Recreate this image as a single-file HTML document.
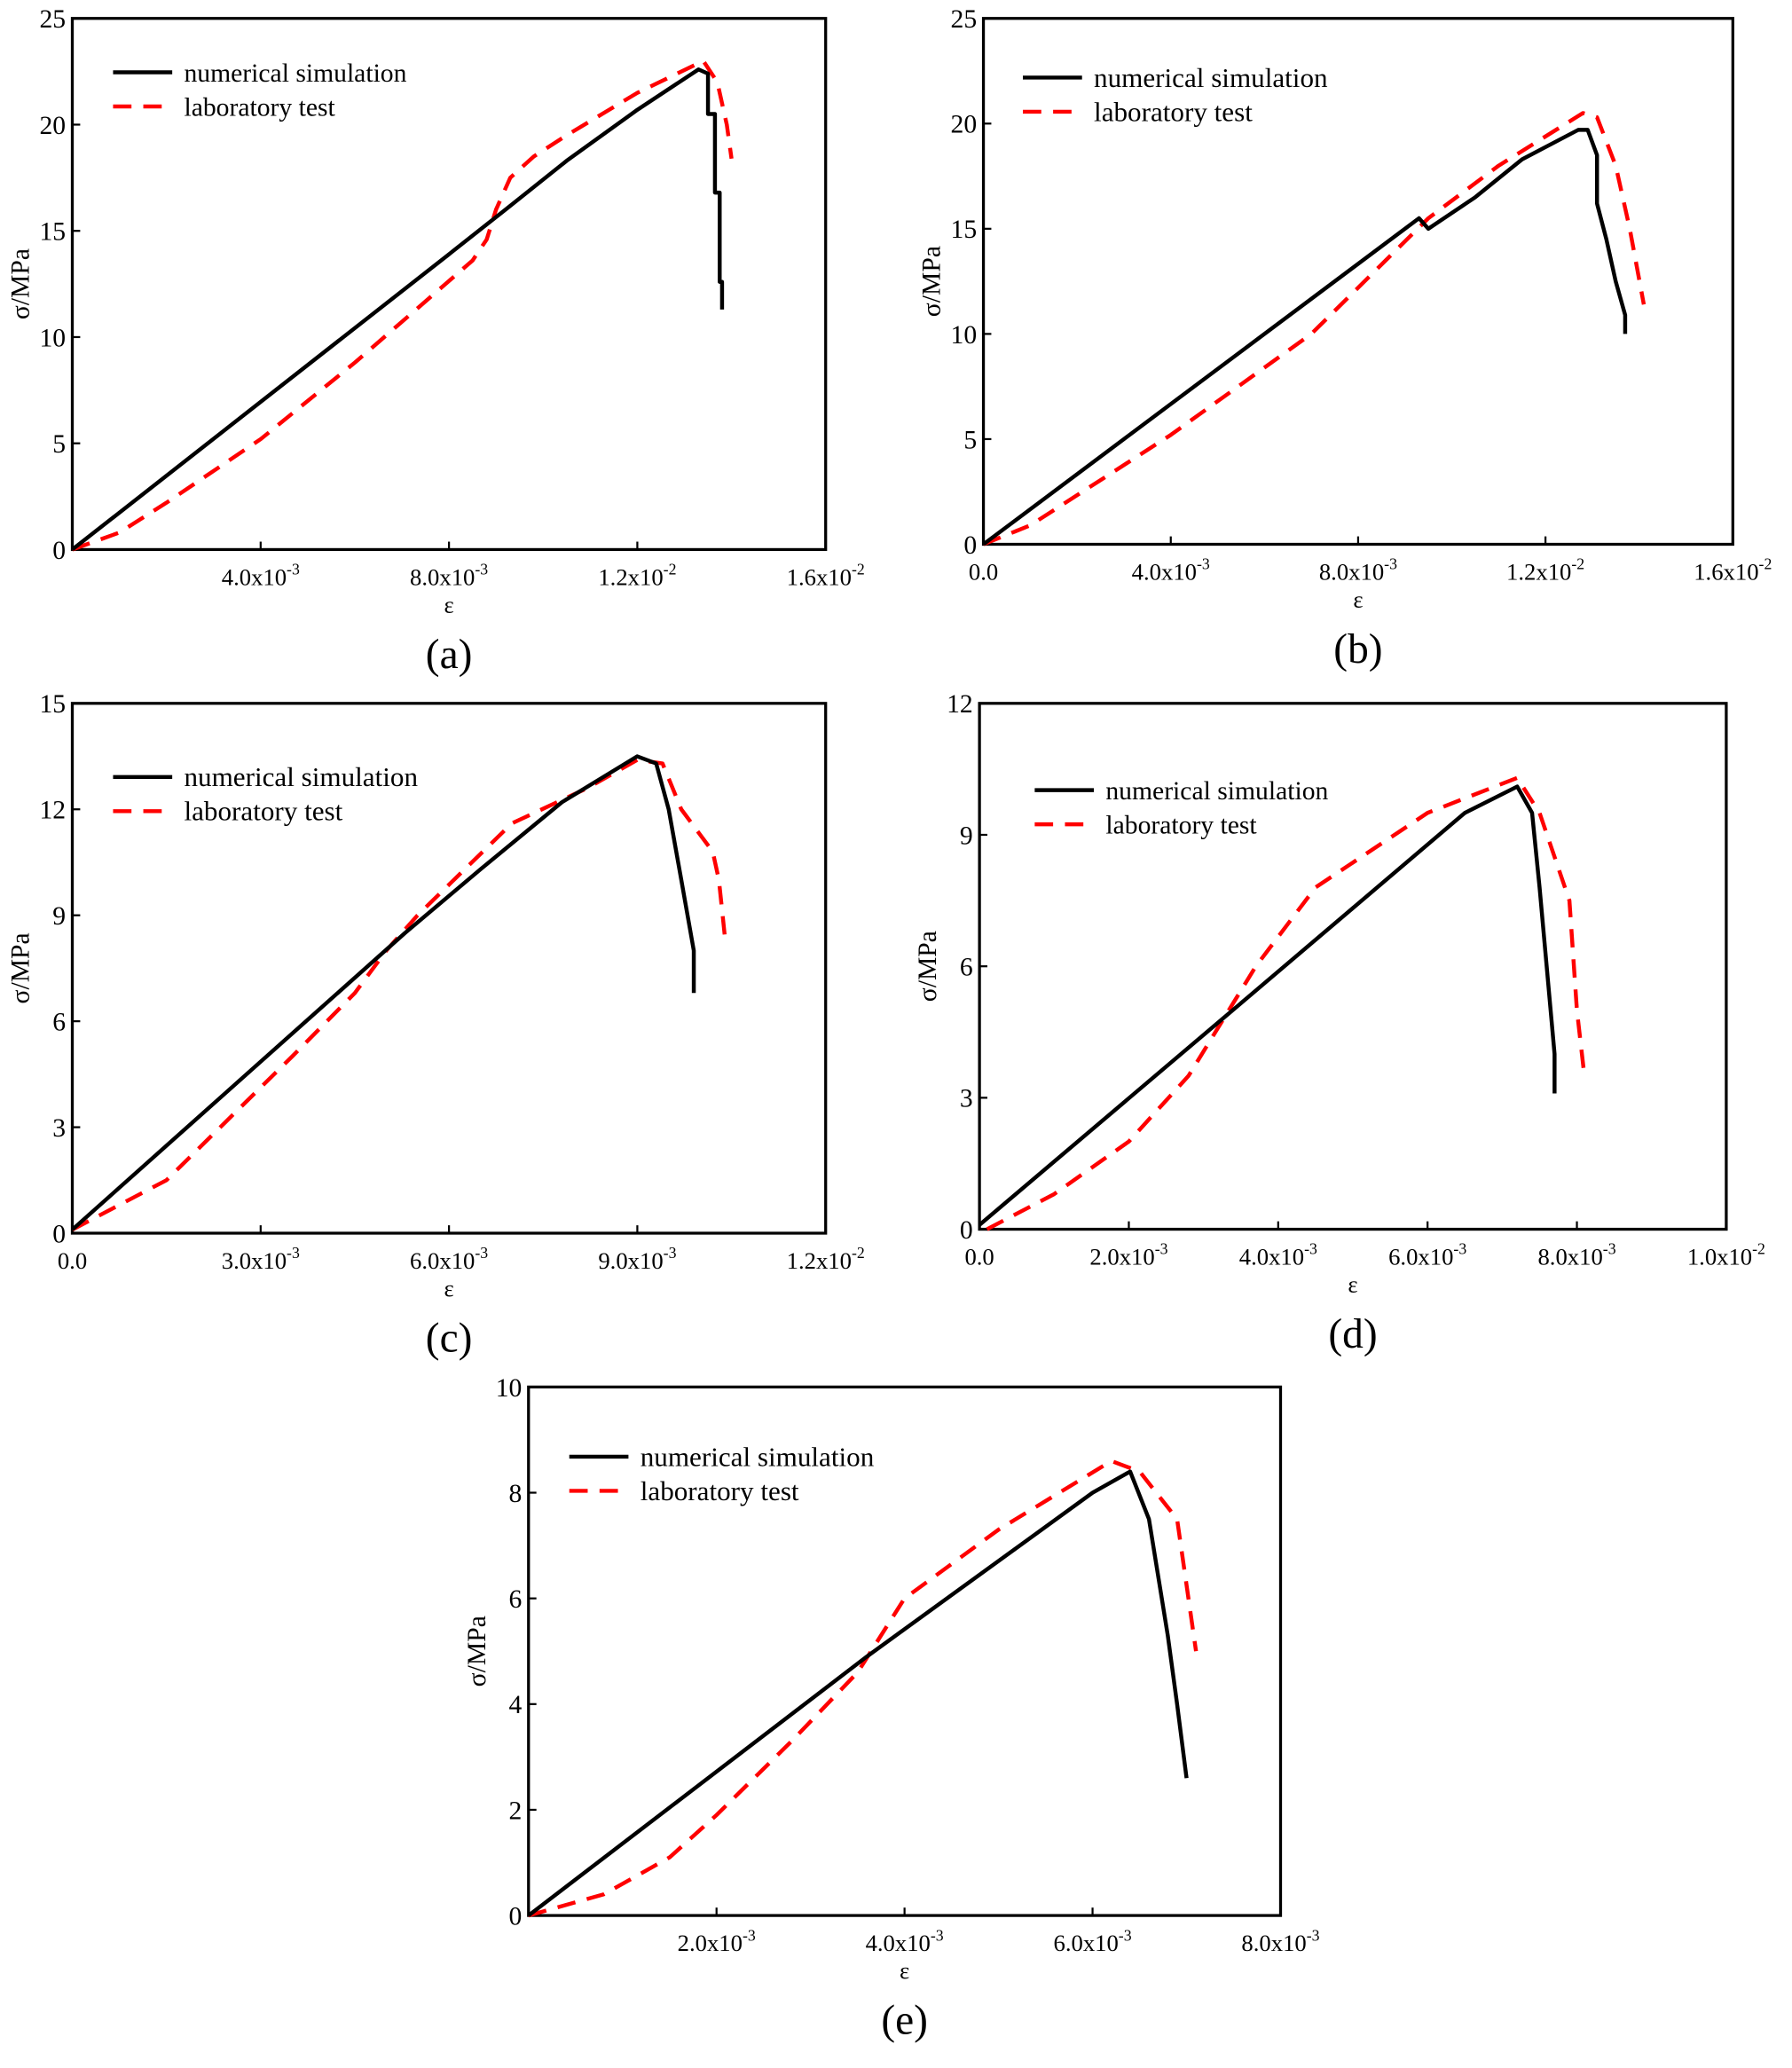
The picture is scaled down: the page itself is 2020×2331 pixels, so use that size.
<!DOCTYPE html>
<html><head><meta charset="utf-8"><style>
html,body{margin:0;padding:0;background:#fff}
svg{display:block}
text{font-family:"Liberation Serif",serif;fill:#000}
</style></head><body>
<svg id="s" width="2020" height="2331" viewBox="0 0 1363 1573" preserveAspectRatio="none" xmlns="http://www.w3.org/2000/svg"></svg>
<script>
var S=document.getElementById('s'),h='';
function P(o){
 var X=function(v){return o.x0+(v-0)/o.xmax*(o.x1-o.x0)},Y=function(v){return o.y1-v/o.ymax*(o.y1-o.y0)};
 h+='<rect x="'+o.x0+'" y="'+o.y0+'" width="'+(o.x1-o.x0)+'" height="'+(o.y1-o.y0)+'" fill="none" stroke="#000" stroke-width="2.2"/>';
 for(var v=0;v<=o.ymax+1e-9;v+=o.ys){var y=Y(v);h+='<line x1="'+o.x0+'" x2="'+(o.x0+6)+'" y1="'+y+'" y2="'+y+'" stroke="#000" stroke-width="1.5"/>';
  h+='<text x="'+(o.x0-5)+'" y="'+(y+7)+'" font-size="20" text-anchor="end">'+v+'</text>';}
 for(var i=0;i<o.xl.length;i++){var v=o.xs*i,x=X(v);h+='<line x1="'+x+'" x2="'+x+'" y1="'+o.y1+'" y2="'+(o.y1-6)+'" stroke="#000" stroke-width="1.5"/>';
  if(o.xl[i])h+='<text x="'+x+'" y="'+(o.y1+27)+'" font-size="18" text-anchor="middle">'+o.xl[i]+'</text>';}
 var cx=(o.x0+o.x1)/2,cy=(o.y0+o.y1)/2;
 h+='<text x="'+cx+'" y="'+(o.y1+48)+'" font-size="18" text-anchor="middle">ε</text>';
 h+='<text transform="translate('+(o.x0-33)+','+cy+') rotate(-90)" font-size="20" text-anchor="middle">σ/MPa</text>';
 h+='<text x="'+cx+'" y="'+(o.y1+90)+'" font-size="32" text-anchor="middle">'+o.lab+'</text>';
 function L(d,st){var s=d.map(function(p){return X(p[0]).toFixed(1)+','+Y(p[1]).toFixed(1)}).join(' ');
  h+='<polyline points="'+s+'" fill="none" '+st+' stroke-linejoin="round"/>';}
 L(o.lb,'stroke="#f00" stroke-width="3" stroke-dasharray="14,9"');
 L(o.nm,'stroke="#000" stroke-width="3"');
 var lx=o.x0+o.lgx,ly=o.y0+o.lgy;
 h+='<line x1="'+lx+'" x2="'+(lx+45)+'" y1="'+ly+'" y2="'+ly+'" stroke="#000" stroke-width="3"/>';
 h+='<line x1="'+lx+'" x2="'+(lx+45)+'" y1="'+(ly+26)+'" y2="'+(ly+26)+'" stroke="#f00" stroke-width="3" stroke-dasharray="14,9"/>';
 h+='<text x="'+(lx+54)+'" y="'+(ly+7)+'" font-size="'+o.lf+'">numerical simulation</text>';
 h+='<text x="'+(lx+54)+'" y="'+(ly+33)+'" font-size="'+o.lf+'">laboratory test</text>';
}
function E(a,b){return a+'x10<tspan dy="-8" font-size="12">'+b+'</tspan>'}
P({x0:55,y0:14,x1:628,y1:418,xmax:0.016,ymax:25,ys:5,xs:0.004,xl:['',E('4.0','-3'),E('8.0','-3'),E('1.2','-2'),E('1.6','-2')],lab:'(a)',lgx:31,lgy:41,lf:20,
nm:[[0,0],[0.008,13.9],[0.0092,16],[0.0105,18.3],[0.012,20.7],[0.0133,22.6],[0.0135,22.4],[0.0135,20.5],[0.01365,20.5],[0.01365,16.8],[0.01375,16.8],[0.01375,12.6],[0.0138,12.6],[0.0138,11.3]],
lb:[[0,0],[0.001,0.8],[0.002,2.2],[0.004,5.2],[0.006,8.8],[0.0085,13.6],[0.0088,14.6],[0.009,16],[0.0093,17.5],[0.0098,18.5],[0.0105,19.5],[0.012,21.5],[0.0134,23],[0.0137,22],[0.0139,20],[0.014,18.4]]});
P({x0:748,y0:14,x1:1318,y1:414,xmax:0.016,ymax:25,ys:5,xs:0.004,xl:['0.0',E('4.0','-3'),E('8.0','-3'),E('1.2','-2'),E('1.6','-2')],lab:'(b)',lgx:30,lgy:45,lf:21,
nm:[[0,0],[0.0093,15.5],[0.0095,15],[0.0105,16.5],[0.0115,18.3],[0.0127,19.7],[0.0129,19.7],[0.0131,18.5],[0.0131,16.2],[0.0133,14.5],[0.0135,12.5],[0.0137,10.9],[0.0137,10]],
lb:[[0,0],[0.001,0.9],[0.004,5.2],[0.007,10],[0.0095,15.5],[0.011,18],[0.0128,20.5],[0.0131,20.3],[0.0135,18],[0.0138,15],[0.0141,11.4]]});
P({x0:55,y0:535,x1:628,y1:938,xmax:0.012,ymax:15,ys:3,xs:0.003,xl:['0.0',E('3.0','-3'),E('6.0','-3'),E('9.0','-3'),E('1.2','-2')],lab:'(c)',lgx:31,lgy:56,lf:21,
nm:[[0,0.1],[0.0053,8.5],[0.0065,10.3],[0.0078,12.2],[0.009,13.5],[0.0093,13.3],[0.0095,12],[0.0097,10],[0.0099,8],[0.0099,6.8]],
lb:[[0,0.1],[0.0015,1.5],[0.0035,5],[0.0045,6.8],[0.005,8],[0.0055,9],[0.007,11.6],[0.0082,12.6],[0.009,13.4],[0.0094,13.3],[0.0097,12],[0.0102,10.8],[0.0103,10],[0.0104,8.3]]});
P({x0:745,y0:535,x1:1313,y1:935,xmax:0.01,ymax:12,ys:3,xs:0.002,xl:['0.0',E('2.0','-3'),E('4.0','-3'),E('6.0','-3'),E('8.0','-3'),E('1.0','-2')],lab:'(d)',lgx:42,lgy:66,lf:20,
nm:[[0,0.1],[0.0036,5.3],[0.0065,9.5],[0.0072,10.1],[0.0074,9.5],[0.0075,7.8],[0.0077,4],[0.0077,3.1]],
lb:[[0.0001,0],[0.001,0.8],[0.002,2],[0.0028,3.5],[0.0037,6],[0.0045,7.8],[0.006,9.5],[0.0072,10.3],[0.0075,9.5],[0.0079,7.5],[0.008,5],[0.0081,3.5]]});
P({x0:402,y0:1055,x1:974,y1:1457,xmax:0.008,ymax:10,ys:2,xs:0.002,xl:['',E('2.0','-3'),E('4.0','-3'),E('6.0','-3'),E('8.0','-3')],lab:'(e)',lgx:31,lgy:53,lf:21,
nm:[[0,0],[0.0036,4.9],[0.006,8],[0.0064,8.4],[0.0066,7.5],[0.0068,5.3],[0.0069,4],[0.007,2.6]],
lb:[[0,0],[0.0008,0.4],[0.0015,1.1],[0.002,1.9],[0.0028,3.3],[0.0035,4.6],[0.004,6],[0.005,7.3],[0.0062,8.6],[0.0065,8.4],[0.0069,7.5],[0.0071,5]]});
S.innerHTML=h;
</script>
</body></html>
